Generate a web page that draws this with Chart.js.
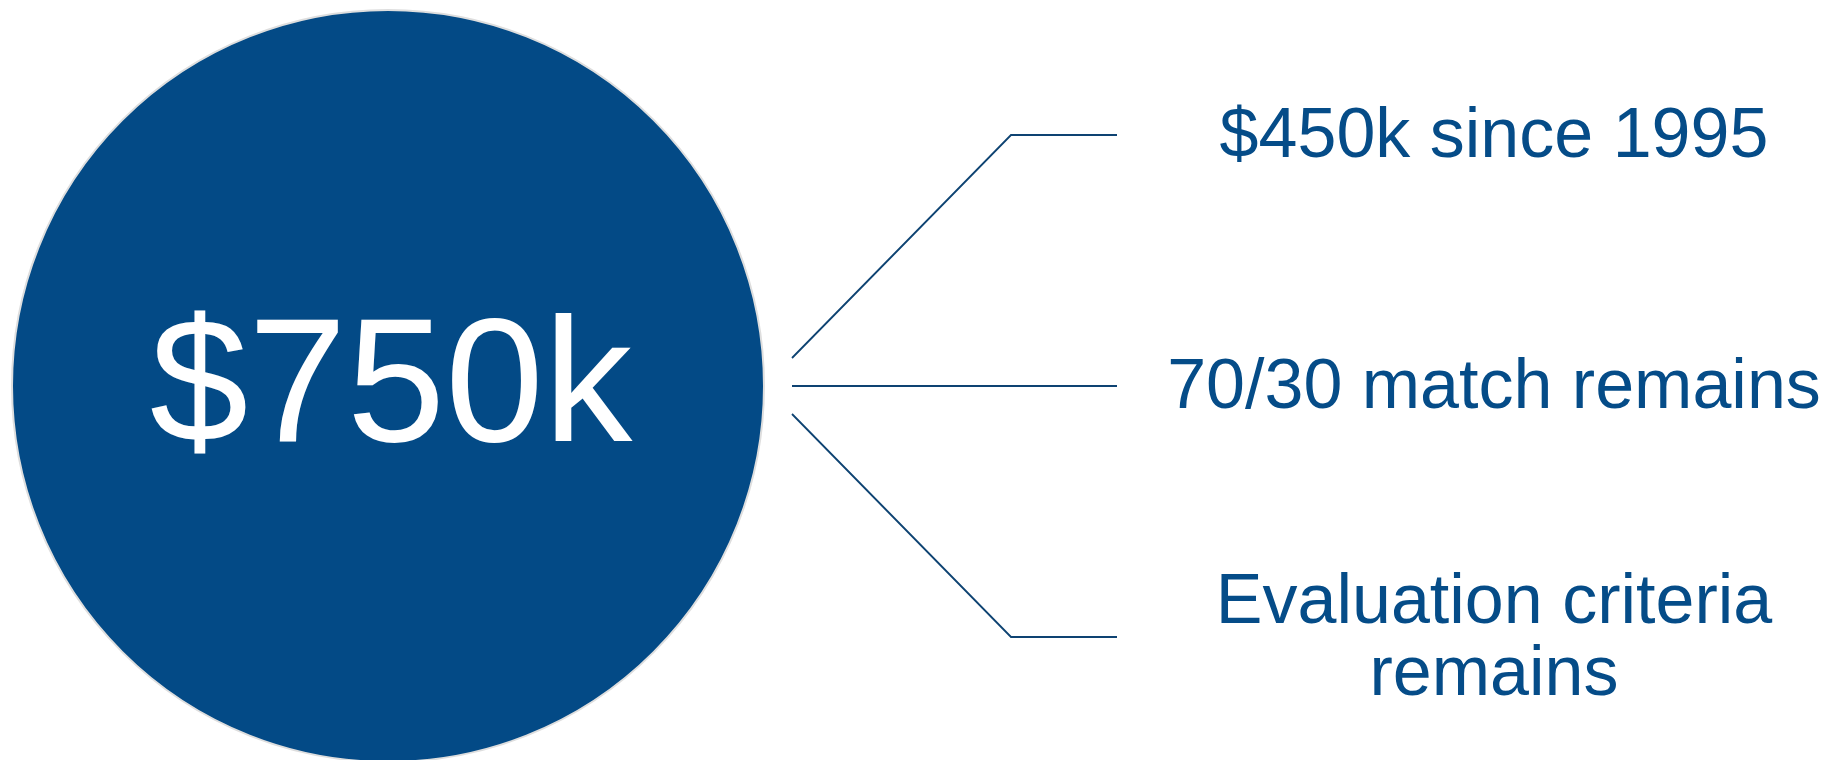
<!DOCTYPE html>
<html>
<head>
<meta charset="utf-8">
<script src="https://cdn.jsdelivr.net/npm/chart.js@4"></script>
<style>
  html, body { margin: 0; padding: 0; background: #fff; overflow: hidden; }
  canvas { display: block; }
</style>
</head>
<body>
<canvas id="graphique" width="1843" height="760"></canvas>
<script>
// contenu du visuel
var headline = '$750k';
var calloutLines = [
  ['$450k since 1995'],
  ['70/30 match remains'],
  ['Evaluation criteria', 'remains']
];

// mise en page (repère du canevas)
var circle = { x: 388, y: 386, r: 376 };
var connectorStartX = 792;
var connectorStartY = [358, 386, 414];
var elbowX = 1011;
var elbowY = [135, 386, 637];
var connectorEndX = 1117;
var calloutCenterX = 1494;
var calloutBaseline = [157, 408, 623];
var lineGap = 72;

var bleu = '#034a86';
var bleuTexte = '#054c88';
var bleuTrait = '#0e4372';
var police = "'Liberation Sans', Arial, sans-serif";

document.addEventListener('DOMContentLoaded', function() {
  var datasets = [];

  // les traits de liaison
  for (var i = 0; i < elbowY.length; i++) {
    datasets.push({
      type: 'line',
      data: [
        { x: connectorStartX, y: connectorStartY[i] },
        { x: elbowX, y: elbowY[i] },
        { x: connectorEndX, y: elbowY[i] }
      ],
      borderColor: bleuTrait,
      borderWidth: 1.8,
      pointRadius: 0,
      tension: 0,
      fill: false,
      clip: false
    });
  }

  // le grand cercle
  datasets.push({
    type: 'bubble',
    data: [{ x: circle.x, y: circle.y, r: circle.r }],
    backgroundColor: bleu,
    borderColor: '#dedede',
    borderWidth: 2,
    clip: false
  });

  var textes = {
    id: 'textes',
    afterDatasetsDraw: function(chart) {
      var ctx = chart.ctx;
      var sx = chart.scales.x, sy = chart.scales.y;
      ctx.save();
      ctx.textAlign = 'center';
      ctx.textBaseline = 'alphabetic';

      ctx.fillStyle = '#ffffff';
      ctx.font = '177px ' + police;
      ctx.fillText(headline, sx.getPixelForValue(391), sy.getPixelForValue(441));

      ctx.fillStyle = bleuTexte;
      ctx.font = '70px ' + police;
      calloutLines.forEach(function(lignes, i) {
        lignes.forEach(function(t, j) {
          ctx.fillText(t, sx.getPixelForValue(calloutCenterX),
            sy.getPixelForValue(calloutBaseline[i] + j * lineGap));
        });
      });
      ctx.restore();
    }
  };

  var ctx = document.getElementById('graphique').getContext('2d');
  new Chart(ctx, {
    type: 'scatter',
    data: { datasets: datasets },
    options: {
      responsive: false,
      animation: false,
      events: [],
      layout: { padding: 0, autoPadding: false },
      plugins: { legend: { display: false }, tooltip: { enabled: false } },
      scales: {
        x: { type: 'linear', min: 0, max: 1843, display: false },
        y: { type: 'linear', min: 0, max: 760, reverse: true, display: false }
      }
    },
    plugins: [textes]
  });
});
</script>
</body>
</html>
